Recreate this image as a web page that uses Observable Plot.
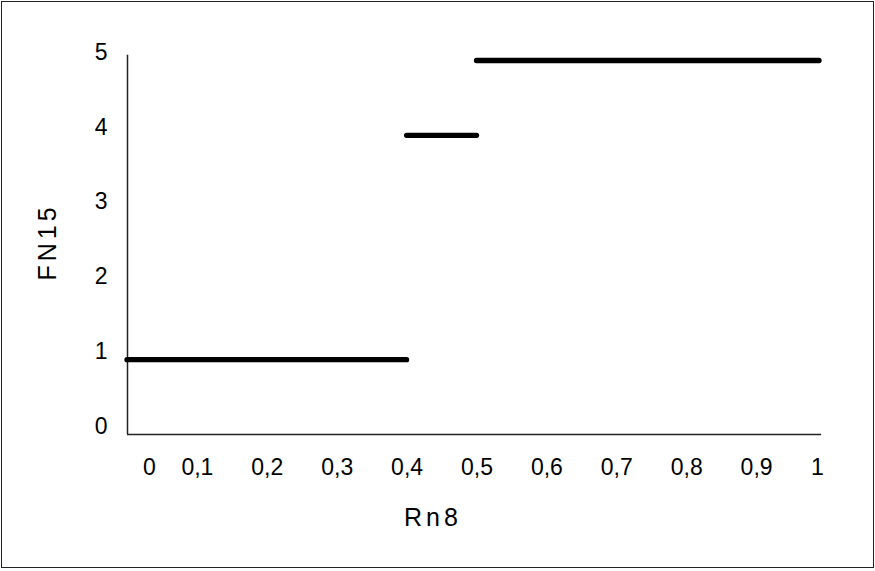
<!DOCTYPE html>
<html>
<head>
<meta charset="utf-8">
<script src="https://cdn.jsdelivr.net/npm/d3@7"></script>
<script src="https://cdn.jsdelivr.net/npm/@observablehq/plot@0.6"></script>
<style>
  html, body { margin: 0; padding: 0; background: #fff; }
  #wrap { position: relative; width: 875px; height: 571px; overflow: hidden; }
  #border { position: absolute; left: 1px; top: 1px; width: 871px; height: 565px; border: 1px solid #222; pointer-events: none; }
  #wrap svg { position: absolute; left: 0; top: 0; }
  #wrap svg g[aria-label="text"] text { letter-spacing: 4px; }
</style>
</head>
<body>
<div id="wrap"><div id="border"></div></div>
<script>
// Step function segments (Rn8 -> FN15)
const segStart = [0, 0.4, 0.5];
const segEnd   = [0.4, 0.5, 0.99];
const segValue = [1, 4, 5];

// Tick values and labels
const xTicksMid = [0.1, 0.2, 0.3, 0.4, 0.5, 0.6, 0.7, 0.8, 0.9];
const xTickFirst = [0];
const xTickLast = [1];
const yTicks = [0, 1, 2, 3, 4, 5];
const xTitle = "Rn8";
const yTitle = "FN15";

const fmt = d => String(d).replace(".", ",");
const segments = segStart.map((s, i) => ({x1: s, x2: segEnd[i], y: segValue[i]}));

const FONT = "'Liberation Sans Narrow', 'Arial Narrow', 'Liberation Sans', Arial, sans-serif";

const chart = Plot.plot({
  width: 875,
  height: 571,
  marginLeft: 127,
  marginRight: 49,
  marginTop: 60,
  marginBottom: 137,
  style: {fontFamily: FONT, fontSize: "23px", color: "#000", background: "transparent"},
  x: {domain: [0, 1]},
  y: {domain: [0, 5]},
  marks: [
    Plot.ruleX([0], {y1: 0, y2: 5.07, stroke: "#222", strokeWidth: 1.5}),
    Plot.ruleY([0], {x1: 0, x2: 0.993, stroke: "#222", strokeWidth: 1.5}),
    Plot.axisY({ticks: yTicks, tickSize: 0, tickPadding: 20, dy: -8, tickFormat: d => String(d), label: null, fill: "#000"}),
    Plot.axisX({ticks: xTicksMid, tickSize: 0, tickPadding: 24, tickFormat: fmt, label: null, fill: "#000"}),
    Plot.axisX({ticks: xTickFirst, tickSize: 0, tickPadding: 24, dx: 22, tickFormat: fmt, label: null, fill: "#000"}),
    Plot.axisX({ticks: xTickLast, tickSize: 0, tickPadding: 24, dx: -9, tickFormat: fmt, label: null, fill: "#000"}),
    Plot.ruleY(segments, {x1: "x1", x2: "x2", y: "y", stroke: "#000", strokeWidth: 5.3, strokeLinecap: "round"}),
    Plot.text([yTitle], {frameAnchor: "left", rotate: -90, textAnchor: "middle", lineAnchor: "middle", dx: -80, dy: -5.5, fontSize: 25, fill: "#000", text: d => d}),
    Plot.text([xTitle], {frameAnchor: "bottom", textAnchor: "middle", lineAnchor: "middle", dx: -44, dy: 83.5, fontSize: 25, fill: "#000", text: d => d})
  ]
});
document.getElementById("wrap").appendChild(chart);
</script>
</body>
</html>
